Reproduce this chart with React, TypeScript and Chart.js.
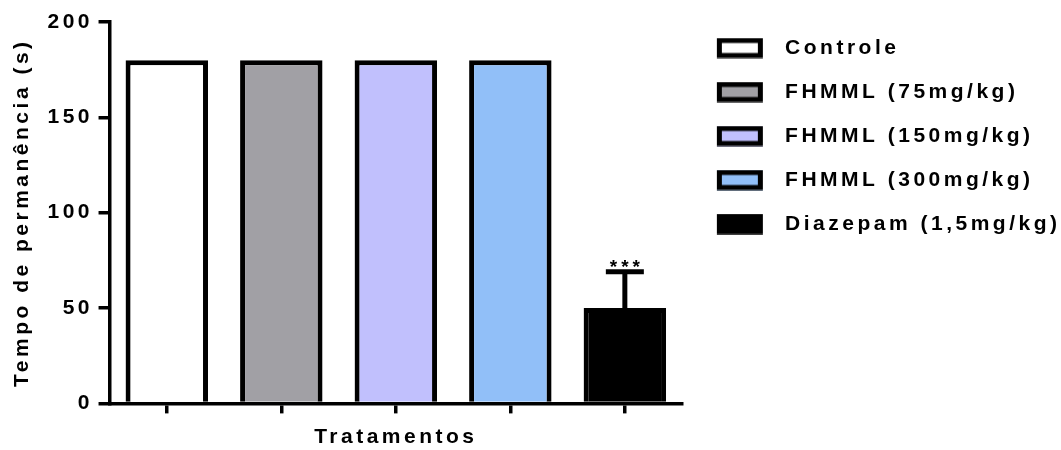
import React, { useEffect, useRef } from 'react';
import { Chart, registerables } from 'chart.js';

Chart.register(...registerables);

const categories = [
  'Controle',
  'FHMML (75mg/kg)',
  'FHMML (150mg/kg)',
  'FHMML (300mg/kg)',
  'Diazepam (1,5mg/kg)',
];
const means = [180, 180, 180, 180, 50];
const errors = [0, 0, 0, 0, 19];
const significance = ['', '', '', '', '***'];
const fillColors = ['#FFFFFF', '#A1A0A5', '#C1C0FD', '#91BFF8', '#000000'];
const yMin = 0;
const yMax = 200;
const yStep = 50;

const FONT = '"Liberation Sans", Arial, Helvetica, sans-serif';
const SPACING = '3.5px';
const FONT_SIZE = 21;

function makeSwatch(fill: string): HTMLCanvasElement {
  const c = document.createElement('canvas');
  c.width = 70;
  c.height = 21;
  const g = c.getContext('2d')!;
  const a = 12;
  g.fillStyle = fill;
  g.fillRect(a, 0.5, 46, 20);
  g.strokeStyle = '#000';
  g.lineWidth = 5;
  g.strokeRect(a + 2.5, 3, 41, 15);
  return c;
}

const spacingPlugin = {
  id: 'letterSpacing',
  beforeLayout(chart: any) {
    chart.ctx.letterSpacing = SPACING;
  },
  beforeDraw(chart: any) {
    chart.ctx.letterSpacing = SPACING;
  },
};

const errorBarPlugin = {
  id: 'errorBars',
  afterDatasetsDraw(chart: any) {
    const ctx = chart.ctx;
    const y = chart.scales.y;
    means.forEach((m, i) => {
      const err = errors[i];
      if (!err) return;
      const bar = chart.getDatasetMeta(i).data[i];
      if (!bar) return;
      const x = bar.x;
      const yTop = y.getPixelForValue(m + err);
      const yBase = y.getPixelForValue(m);
      ctx.save();
      ctx.strokeStyle = '#000';
      ctx.lineWidth = 5;
      ctx.beginPath();
      ctx.moveTo(x, yBase);
      ctx.lineTo(x, yTop);
      ctx.stroke();
      ctx.beginPath();
      ctx.moveTo(x - 19, yTop);
      ctx.lineTo(x + 19, yTop);
      ctx.stroke();
      ctx.fillStyle = '#000';
      ctx.font = `bold 19px ${FONT}`;
      ctx.textAlign = 'center';
      ctx.textBaseline = 'alphabetic';
      ctx.letterSpacing = '4px';
      ctx.fillText(significance[i], x + 2, yTop + 1);
      ctx.restore();
    });
  },
};

export default function App() {
  const ref = useRef<HTMLCanvasElement>(null);

  useEffect(() => {
    if (!ref.current) return;
    const swatches = fillColors.map(makeSwatch);
    const datasets = categories.map((name, i) => ({
      label: name,
      data: means.map((v, j) => (j === i ? v : null)),
      backgroundColor: fillColors[i],
      borderColor: '#000000',
      borderWidth: 5,
      grouped: false,
      barPercentage: 0.72,
      categoryPercentage: 1,
    }));

    const chart = new Chart(ref.current, {
      type: 'bar',
      data: { labels: categories, datasets: datasets as any },
      plugins: [spacingPlugin, errorBarPlugin],
      options: {
        animation: false,
        responsive: false,
        layout: { padding: { left: 4, right: -9.5, top: 14.5, bottom: 0 } },
        font: { family: FONT, size: FONT_SIZE, weight: 'bold' },
        plugins: {
          tooltip: { enabled: false },
          legend: {
            position: 'right',
            align: 'start',
            maxWidth: 600,
            labels: {
              usePointStyle: true,
              pointStyleWidth: 69.5,
              boxHeight: 21,
              padding: 23,
              color: '#000',
              font: { family: FONT, size: FONT_SIZE, weight: 'bold' },
              generateLabels: (c: any) =>
                Chart.defaults.plugins.legend.labels
                  .generateLabels(c)
                  .map((l: any, i: number) => ({ ...l, pointStyle: swatches[i] })),
            },
          },
        },
        scales: {
          x: {
            offset: true,
            grid: {
              display: true,
              offset: false,
              drawOnChartArea: false,
              drawTicks: true,
              tickLength: 10,
              lineWidth: 3.5,
              color: '#000',
            },
            border: { display: true, width: 3.5, color: '#000' },
            ticks: { display: false },
            title: {
              display: true,
              text: 'Tratamentos',
              color: '#000',
              font: { family: FONT, size: FONT_SIZE, weight: 'bold' },
              padding: { top: 11.4, bottom: 0 },
            },
          },
          y: {
            min: yMin,
            max: yMax,
            afterFit: (s: any) => {
              s.paddingTop = 22;
            },
            ticks: {
              stepSize: yStep,
              color: '#000',
              padding: 5.5,
              font: { family: FONT, size: FONT_SIZE, weight: 'bold' },
            },
            grid: {
              display: true,
              drawOnChartArea: false,
              drawTicks: true,
              tickLength: 11,
              lineWidth: 3.5,
              color: '#000',
            },
            border: { display: true, width: 3.5, color: '#000' },
            title: {
              display: true,
              text: 'Tempo de permanência (s)',
              color: '#000',
              font: { family: FONT, size: FONT_SIZE, weight: 'bold' },
              padding: { top: 5.4, bottom: 7.4 },
            },
          },
        },
      } as any,
    });
    return () => chart.destroy();
  }, []);

  return (
    <div style={{ position: 'absolute', left: 0, top: 0, width: 1061, height: 450 }}>
      <canvas ref={ref} width={1061} height={450} style={{ display: 'block' }} />
    </div>
  );
}
